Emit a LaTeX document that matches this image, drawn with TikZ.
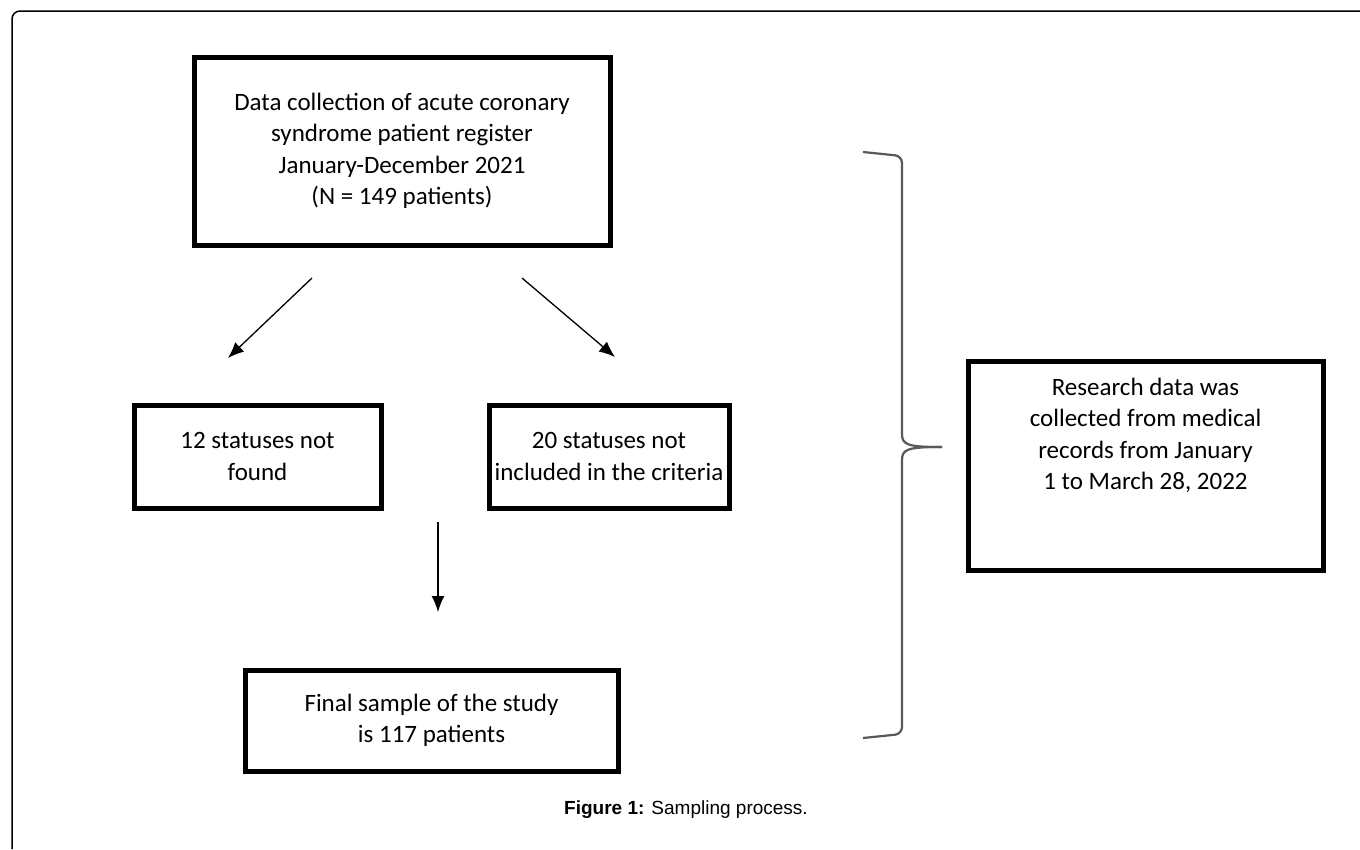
\documentclass[tikz,border=0pt]{standalone}
\usepackage{fontspec}
\setmainfont{Carlito}
\newfontfamily\capfont{Liberation Sans}
\usetikzlibrary{arrows.meta}
\begin{document}
\begin{tikzpicture}[>={Latex[length=16pt,width=13pt]}, x=1pt, y=-1pt, line width=1.3pt,
  box/.style={draw, line width=5pt, align=center, inner sep=0pt, font=\fontsize{25}{31.5}\selectfont},
  brace/.style={draw=black!65, line width=2.2pt}]
\useasboundingbox (0,0) rectangle (1360,849);
% frame
\draw[line width=1.5pt, rounded corners=8pt](12,849)--(12,11)--(1360,11);
% boxes
\node[box, minimum width=416, minimum height=188] (data) at (402,151) {Data collection of acute coronary\\syndrome patient register\\January-December 2021\\(N = 149 patients)};
\node[box, minimum width=247, minimum height=103] (notfound) at (257.5,456.5) {12 statuses not\\found};
\node[box, minimum width=240, minimum height=103] (excluded) at (609,456.5) {20 statuses not\\included in the criteria};
\node[box, minimum width=373, minimum height=101] (final) at (431.5,720.5) {Final sample of the study\\is 117 patients};
\node[box, minimum width=355, minimum height=209] (research) at (1145.5,465.5) {Research data was\\collected from medical\\records from January\\1 to March 28, 2022\\[22pt]\strut};
% arrows
\coordinate (l0) at (312,278);
\coordinate (l1) at (228,358);
\coordinate (r0) at (522,278);
\coordinate (r1) at (615,357);
\coordinate (d0) at (438,522);
\coordinate (d1) at (438,612);
\draw[->](l0)--(l1);
\draw[->](r0)--(r1);
\draw[->](d0)--(d1);
% brace
\coordinate (tip) at (942,447);
\draw[brace, rounded corners=7pt](863,152)--(902,156)--(902,434);
\draw[brace](902,434) .. controls (902,445) and (908,447) .. (tip);
\draw[brace](tip) .. controls (908,447) and (902,449) .. (902,460);
\draw[brace, rounded corners=7pt](902,460)--(902,734)--(863,738);
% caption
\node (caption) at (686,810) {\capfont\fontsize{19}{21}\selectfont\textbf{Figure 1:} Sampling process.};
\end{tikzpicture}
\end{document}
